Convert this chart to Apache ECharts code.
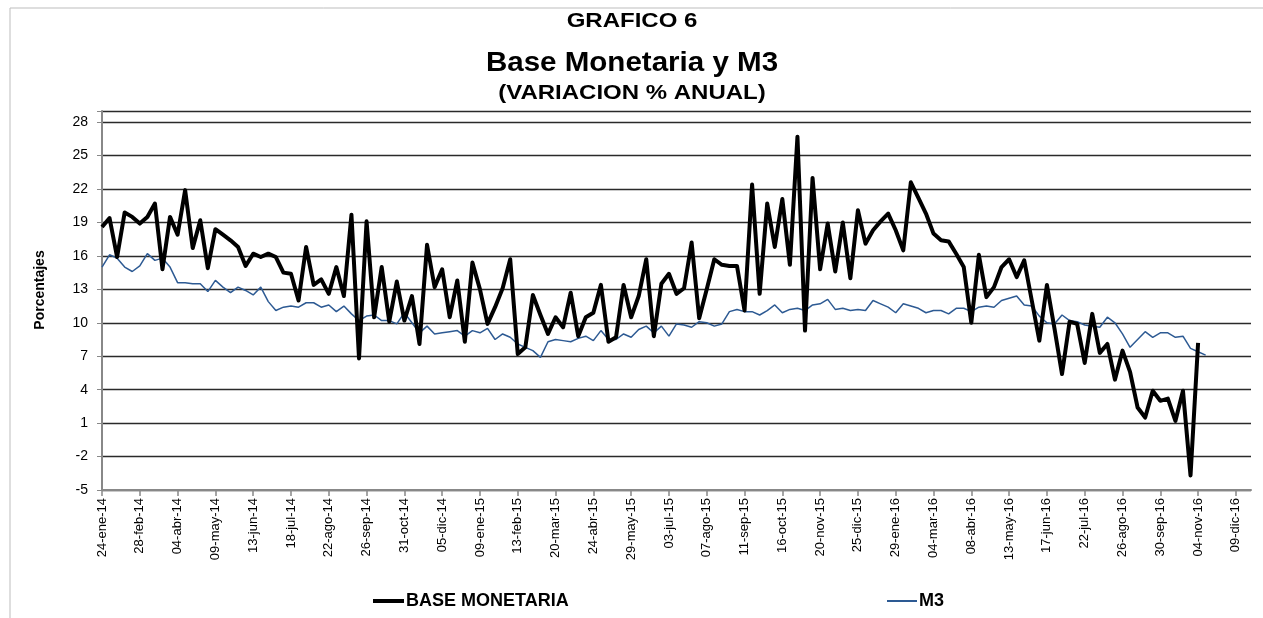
<!DOCTYPE html>
<html><head><meta charset="utf-8">
<script src="https://cdn.jsdelivr.net/npm/echarts@6/dist/echarts.min.js"></script>
<style>html,body{margin:0;padding:0;background:#fff}#c{width:1263px;height:618px}</style>
</head><body><div id="c"></div>
<script>
// ---- data ----
var startDate = [2014, 0, 24];   // first weekly observation (24-ene-14)
var nCategories = 153;           // weekly axis slots shown
var monthNames = ['ene','feb','mar','abr','may','jun','jul','ago','sep','oct','nov','dic'];
var yTicks = {min: -5, max: 29, interval: 3};

var baseMonetaria = [
18.6,19.4,15.9,19.9,19.5,18.9,19.5,20.7,14.8,19.5,
17.9,21.9,16.7,19.2,14.9,18.4,17.9,17.4,16.8,15.1,
16.2,15.9,16.2,15.9,14.5,14.4,12.0,16.8,13.4,13.9,
12.6,15.0,12.4,19.7,6.8,19.1,10.5,15.0,10.1,13.7,
10.2,12.4,8.1,17.0,13.2,14.8,10.5,13.8,8.3,15.4,
13.0,9.9,11.4,13.1,15.7,7.2,7.8,12.5,10.7,9.0,
10.5,9.6,12.7,8.8,10.5,10.9,13.4,8.3,8.7,13.4,
10.5,12.4,15.7,8.8,13.5,14.4,12.6,13.1,17.2,10.4,
13.0,15.7,15.2,15.1,15.1,11.1,22.4,12.6,20.7,16.8,
21.1,15.2,26.7,9.3,23.0,14.8,18.9,14.6,19.0,14.0,
20.1,17.1,18.3,19.1,19.8,18.3,16.5,22.6,21.2,19.8,
18.0,17.4,17.3,16.2,15.0,10.0,16.1,12.3,13.2,15.0,
15.7,14.1,15.6,12.0,8.4,13.4,9.5,5.4,10.1,9.9,
6.4,10.8,7.3,8.1,4.9,7.5,5.6,2.4,1.5,3.9,
3.0,3.2,1.2,3.9,-3.7,8.2
];
var m3 = [
15.0,16.1,15.8,15.0,14.6,15.1,16.2,15.6,15.8,15.0,
13.6,13.6,13.5,13.5,12.8,13.8,13.2,12.7,13.2,12.9,
12.5,13.2,11.9,11.1,11.4,11.5,11.4,11.8,11.8,11.4,
11.6,11.0,11.5,10.8,10.2,10.6,10.7,10.2,10.2,9.9,
10.9,10.0,9.1,9.7,9.0,9.1,9.2,9.3,8.8,9.3,
9.1,9.5,8.5,9.0,8.7,8.1,7.8,7.5,6.9,8.3,
8.5,8.4,8.3,8.6,8.8,8.4,9.3,8.5,8.5,9.0,
8.7,9.4,9.7,9.1,9.7,8.8,9.9,9.8,9.6,10.1,
10.0,9.7,9.9,11.0,11.2,11.0,11.0,10.7,11.1,11.6,
10.9,11.2,11.3,11.1,11.6,11.7,12.1,11.2,11.3,11.1,
11.2,11.1,12.0,11.7,11.4,10.9,11.7,11.5,11.3,10.9,
11.1,11.1,10.8,11.3,11.3,11.0,11.4,11.5,11.4,12.0,
12.2,12.4,11.6,11.5,10.6,10.0,9.9,10.7,10.2,10.1,
9.8,9.7,9.6,10.5,10.0,9.0,7.8,8.5,9.2,8.7,
9.1,9.1,8.7,8.8,7.7,7.4,7.1
];
var seriesNames = ['BASE MONETARIA', 'M3'];
var titleLines = ['GRAFICO 6', 'Base Monetaria y M3', '(VARIACION % ANUAL)'];
var yAxisName = 'Porcentajes';

// ---- categories (weekly dates) ----
var categories = [];
(function(){
  var d = new Date(startDate[0], startDate[1], startDate[2]);
  for (var i = 0; i < nCategories; i++) {
    var dd = ('0' + d.getDate()).slice(-2);
    var yy = String(d.getFullYear()).slice(-2);
    categories.push(dd + '-' + monthNames[d.getMonth()] + '-' + yy);
    d.setDate(d.getDate() + 7);
  }
})();

var FONT = '"Liberation Sans", Arial, sans-serif';
function titleText(txt, y, size, sx) {
  return {type: 'text', x: 632, y: y, scaleX: sx, silent: true,
    style: {text: txt, font: 'bold ' + size + 'px ' + FONT, fill: '#000', align: 'center', verticalAlign: 'middle'}};
}
var chart = echarts.init(document.getElementById('c'), null, {renderer: 'canvas'});
chart.setOption({
  animation: false,
  backgroundColor: '#fff',
  graphic: [
    {type: 'rect', shape: {x: 10, y: 8, width: 1300, height: 700}, style: {fill: 'none', stroke: '#bdbdbd', lineWidth: 1}, silent: true},
    titleText(titleLines[0], 21, 20, 1.2),
    titleText(titleLines[1], 63, 28, 1.055),
    titleText(titleLines[2], 93, 20, 1.2),
    {type: 'text', x: 40, y: 290, rotation: Math.PI / 2, silent: true,
     style: {text: yAxisName, font: 'bold 14px ' + FONT, fill: '#000', align: 'center', verticalAlign: 'middle'}}
  ],
  legend: [
    {data: [{name: seriesNames[0], icon: 'rect'}], left: 368, top: 587, itemWidth: 31, itemHeight: 4, itemGap: 4,
     textStyle: {fontFamily: FONT, fontWeight: 'bold', fontSize: 18, color: '#000', padding: [0,0,0,-3]}},
    {data: [{name: seriesNames[1], icon: 'rect'}], left: 882, top: 587, itemWidth: 30, itemHeight: 2, itemGap: 4,
     textStyle: {fontFamily: FONT, fontWeight: 'bold', fontSize: 18, color: '#000', padding: [0,0,0,-3]}}
  ],
  grid: {left: 102, right: 12, top: 111, bottom: 128, containLabel: false},
  xAxis: {
    type: 'category', data: categories, boundaryGap: false,
    axisLine: {onZero: false, lineStyle: {color: '#888', width: 2}},
    axisTick: {show: true, interval: 4, length: 6, lineStyle: {color: '#888', width: 1.5}},
    axisLabel: {interval: 4, rotate: 90, fontFamily: FONT, fontSize: 13, color: '#000', margin: 8},
    splitLine: {show: false}
  },
  yAxis: {
    type: 'value', min: yTicks.min, max: yTicks.max, interval: yTicks.interval,
    axisLine: {show: true, lineStyle: {color: '#888', width: 2}},
    axisTick: {show: true, length: 5, lineStyle: {color: '#888'}},
    axisLabel: {fontFamily: FONT, fontSize: 14, color: '#000', margin: 14,
      formatter: function(v){ return v === yTicks.max ? '' : String(v); }},
    splitLine: {show: true, lineStyle: {color: '#2a2a2a', width: 1.3}}
  },
  series: [
    {name: seriesNames[0], type: 'line', data: baseMonetaria, showSymbol: false, symbol: 'none',
     lineStyle: {color: '#000', width: 4, join: 'round'}, itemStyle: {color: '#000'}, z: 3},
    {name: seriesNames[1], type: 'line', data: m3, showSymbol: false, symbol: 'none',
     lineStyle: {color: '#2D5A93', width: 1.5}, itemStyle: {color: '#2D5A93'}, z: 2}
  ]
});
</script>
</body></html>
